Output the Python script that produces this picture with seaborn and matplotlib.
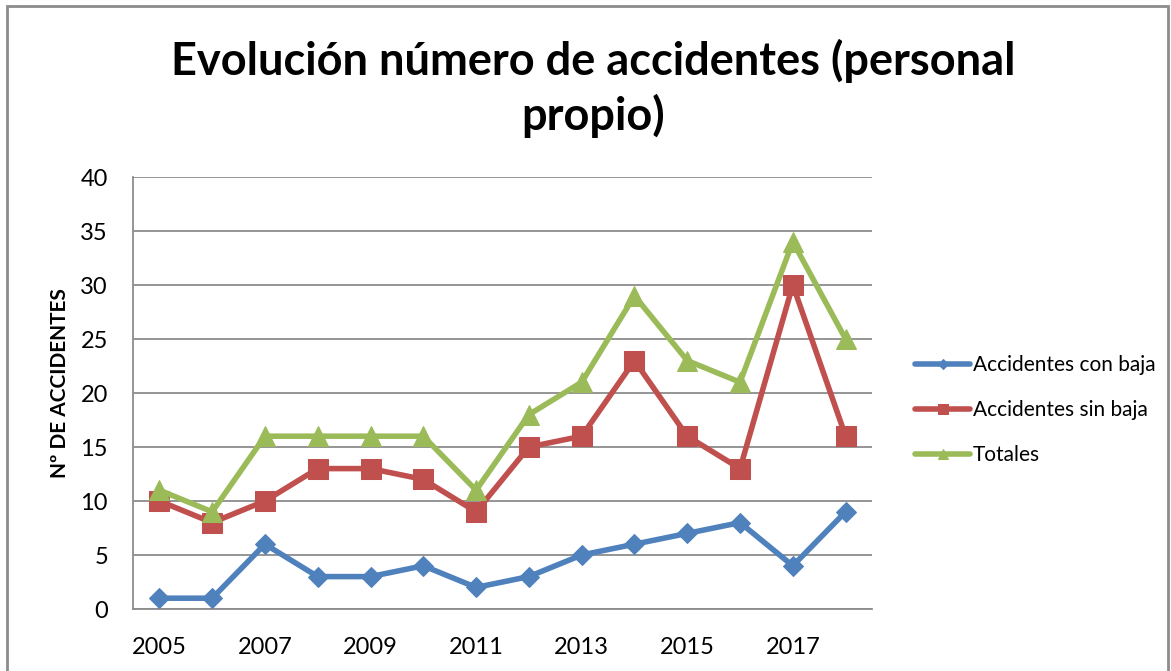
import matplotlib
matplotlib.use("Agg")
import matplotlib.pyplot as plt
import seaborn as sns
import pandas as pd
from matplotlib.patches import Rectangle

years = [2005, 2006, 2007, 2008, 2009, 2010, 2011, 2012, 2013, 2014, 2015, 2016, 2017, 2018]
con_baja = [1, 1, 6, 3, 3, 4, 2, 3, 5, 6, 7, 8, 4, 9]
sin_baja = [10, 8, 10, 13, 13, 12, 9, 15, 16, 23, 16, 13, 30, 16]
totales = [11, 9, 16, 16, 16, 16, 11, 18, 21, 29, 23, 21, 34, 25]
series_names = ["Accidentes con baja", "Accidentes sin baja", "Totales"]
y_ticks = [0, 5, 10, 15, 20, 25, 30, 35, 40]
x_ticks = [2005, 2007, 2009, 2011, 2013, 2015, 2017]
title_lines = ["Evolución número de accidentes (personal", "propio)"]
y_label = "Nº DE ACCIDENTES"

sns.set_theme(style="white")
plt.rcParams["font.family"] = ["Lato", "DejaVu Sans"]
plt.rcParams["text.color"] = "black"

colors = ["#4F81BD", "#C0504D", "#9BBB59"]
markers = ["D", "s", "^"]
msizes = [10, 14, 14]

fig = plt.figure(figsize=(11.71, 6.71), dpi=100)
ax = fig.add_axes([133 / 1171, 1 - 609 / 671, (872 - 133) / 1171, (609 - 177) / 671])

df = pd.DataFrame({"Año": years * 3,
                   "Valor": con_baja + sin_baja + totales,
                   "Serie": sum([[n] * len(years) for n in series_names], [])})

for name, c, m, ms in zip(series_names, colors, markers, msizes):
    sub = df[df["Serie"] == name]
    sns.lineplot(data=sub, x="Año", y="Valor", ax=ax, color=c, marker=m,
                 markersize=ms, markeredgecolor=c, linewidth=4, label=name,
                 zorder=3)

ax.set_xlim(2004.5, 2018.5)
ax.set_ylim(0, 40)
ax.set_yticks(y_ticks)
ax.set_xticks(x_ticks)
ax.set_xticklabels([str(x) for x in x_ticks])
ax.yaxis.grid(True, color="#8C8C8C", linewidth=1.3)
ax.xaxis.grid(False)
ax.set_xlabel("")
ax.set_ylabel("")
for s in ["top", "right"]:
    ax.spines[s].set_visible(False)
for s in ["left", "bottom"]:
    ax.spines[s].set_color("#8C8C8C")
    ax.spines[s].set_linewidth(1.3)
ax.tick_params(axis="both", length=0, labelsize=17, colors="black")
ax.tick_params(axis="y", pad=18)
ax.tick_params(axis="x", pad=20)

leg = ax.legend(loc="center left", bbox_to_anchor=(905 / 1171, 1 - 410 / 671),
                bbox_transform=fig.transFigure, frameon=False, fontsize=15,
                handlelength=2.6, handletextpad=0.15, labelspacing=1.2,
                markerscale=0.55, borderpad=0, labelcolor="black")

fig.text(593 / 1171, 1 - 75 / 671, title_lines[0], ha="center", va="baseline",
         fontsize=32.5, fontweight="bold", color="black")
fig.text(593 / 1171, 1 - 130 / 671, title_lines[1], ha="center", va="baseline",
         fontsize=32.5, fontweight="bold", color="black")
fig.text(60 / 1171, 1 - 383 / 671, y_label, rotation=90, ha="center", va="center",
         fontsize=15, fontweight="bold", color="black")

fig.patches.append(Rectangle((7 / 1171, -0.05), (1168 - 7) / 1171, 0.05 + (671 - 6.5) / 671,
                             transform=fig.transFigure, fill=False,
                             edgecolor="#8C8C8C", linewidth=2))

fig.savefig("out.png", dpi=100)
